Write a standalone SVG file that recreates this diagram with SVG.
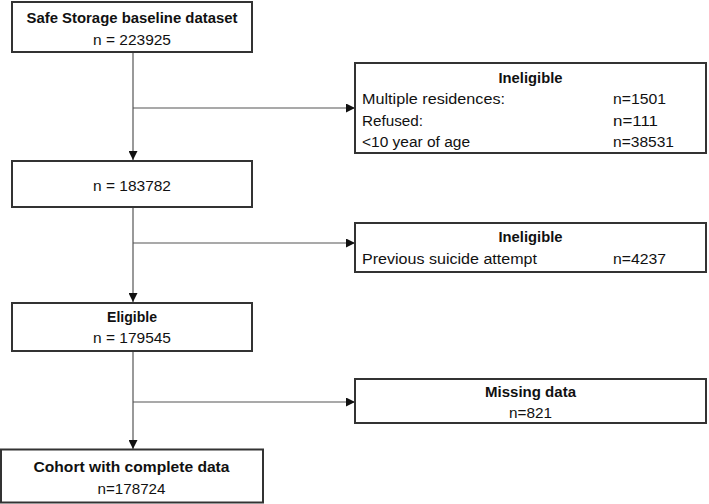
<svg xmlns="http://www.w3.org/2000/svg" width="709" height="504" viewBox="0 0 709 504">
<style>
.box{fill:#fff;stroke:#333;stroke-width:2}
.t{font-family:"Liberation Sans",Arial,sans-serif;font-size:15.5px;fill:#111}
.b{font-weight:bold}
.c{text-anchor:middle}
.ln{stroke:#555;stroke-width:1.2;fill:none}
</style>
<defs>
<marker id="ah" markerUnits="userSpaceOnUse" markerWidth="9" markerHeight="9" refX="9" refY="4.5" orient="auto">
<path d="M0,0 L9,4.5 L0,9 z" fill="#111"/>
</marker>
</defs>
<rect width="709" height="504" fill="#fff"/>
<g id="connectors">
<line class="ln" x1="133" y1="52" x2="133" y2="160" marker-end="url(#ah)"/>
<line class="ln" x1="133" y1="108" x2="355" y2="108" marker-end="url(#ah)"/>
<line class="ln" x1="133" y1="207" x2="133" y2="302" marker-end="url(#ah)"/>
<line class="ln" x1="133" y1="243" x2="355" y2="243" marker-end="url(#ah)"/>
<line class="ln" x1="133" y1="351" x2="133" y2="449" marker-end="url(#ah)"/>
<line class="ln" x1="133" y1="402" x2="355" y2="402" marker-end="url(#ah)"/>
</g>
<g id="baseline">
<rect class="box" x="12" y="2" width="240" height="50"/>
<text class="t b c" x="132" y="23" textLength="211" lengthAdjust="spacingAndGlyphs">Safe Storage baseline dataset</text>
<text class="t c" x="132" y="45" textLength="78" lengthAdjust="spacingAndGlyphs">n = 223925</text>
</g>
<g id="n183782">
<rect class="box" x="12" y="161" width="240" height="46"/>
<text class="t c" x="132" y="190.5" textLength="78" lengthAdjust="spacingAndGlyphs">n = 183782</text>
</g>
<g id="ineligible1">
<rect class="box" x="355" y="63" width="351" height="90"/>
<text class="t b c" x="530.5" y="83" textLength="64" lengthAdjust="spacingAndGlyphs">Ineligible</text>
<text class="t" x="362" y="104" textLength="143" lengthAdjust="spacingAndGlyphs">Multiple residences:</text>
<text class="t" x="613" y="104" textLength="53" lengthAdjust="spacingAndGlyphs">n=1501</text>
<text class="t" x="362" y="125.5" textLength="61" lengthAdjust="spacingAndGlyphs">Refused:</text>
<text class="t" x="613" y="125.5" textLength="45" lengthAdjust="spacingAndGlyphs">n=111</text>
<text class="t" x="362" y="147" textLength="108" lengthAdjust="spacingAndGlyphs">&lt;10 year of age</text>
<text class="t" x="613" y="147" textLength="61" lengthAdjust="spacingAndGlyphs">n=38531</text>
</g>
<g id="ineligible2">
<rect class="box" x="355" y="223" width="351" height="49"/>
<text class="t b c" x="530.5" y="242" textLength="64" lengthAdjust="spacingAndGlyphs">Ineligible</text>
<text class="t" x="362" y="264" textLength="175" lengthAdjust="spacingAndGlyphs">Previous suicide attempt</text>
<text class="t" x="613" y="264" textLength="53" lengthAdjust="spacingAndGlyphs">n=4237</text>
</g>
<g id="eligible">
<rect class="box" x="12" y="303" width="240" height="48"/>
<text class="t b c" x="132" y="321.5" textLength="50" lengthAdjust="spacingAndGlyphs">Eligible</text>
<text class="t c" x="132" y="343" textLength="78" lengthAdjust="spacingAndGlyphs">n = 179545</text>
</g>
<g id="missing">
<rect class="box" x="355" y="379" width="351" height="44"/>
<text class="t b c" x="530.5" y="397" textLength="91" lengthAdjust="spacingAndGlyphs">Missing data</text>
<text class="t c" x="530.5" y="418" textLength="43" lengthAdjust="spacingAndGlyphs">n=821</text>
</g>
<g id="cohort">
<rect class="box" x="1" y="449.5" width="262" height="53"/>
<text class="t b c" x="131.5" y="472" textLength="196" lengthAdjust="spacingAndGlyphs">Cohort with complete data</text>
<text class="t c" x="131.5" y="494" textLength="68" lengthAdjust="spacingAndGlyphs">n=178724</text>
</g>
</svg>
